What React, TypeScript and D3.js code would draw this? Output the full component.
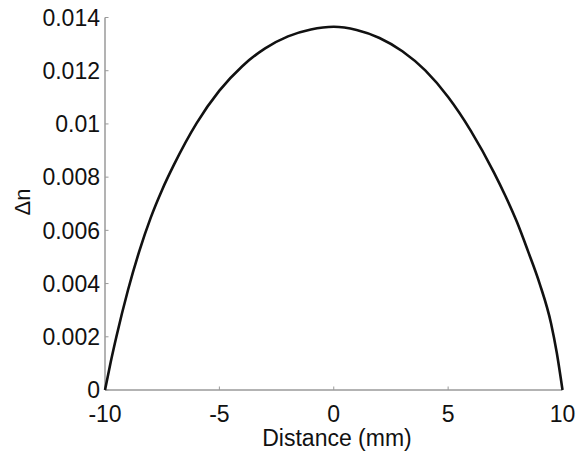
import React from "react";
import * as d3 from "d3";

const distances = [-10, -9.75, -9.5, -9, -8.5, -8, -7.5, -7, -6, -5, -4, -3, -2, -1, 0, 1, 2, 3, 4, 5, 6, 7, 7.5, 8, 8.5, 9, 9.5, 9.75, 10];
const deltaN = [0, 0.00105, 0.00201, 0.00374, 0.00522, 0.00648, 0.00753, 0.00844, 0.01002, 0.01125, 0.01217, 0.01284, 0.01329, 0.01355, 0.01365, 0.01353, 0.01323, 0.01273, 0.01201, 0.01101, 0.00973, 0.00818, 0.0073, 0.00633, 0.0052, 0.004, 0.0025, 0.0014, 0];
const xTicks = [-10, -5, 0, 5, 10];
const yTicks = [0, 0.002, 0.004, 0.006, 0.008, 0.01, 0.012, 0.014];
const yTickLabels = ["0", "0.002", "0.004", "0.006", "0.008", "0.01", "0.012", "0.014"];
const xLabel = "Distance (mm)";
const yLabel = "Δn";

const W = 579;
const H = 454;

export default function App() {
  const x = d3.scaleLinear().domain([-10, 10]).range([105, 562.5]);
  const y = d3.scaleLinear().domain([0, 0.014]).range([390, 17.5]);
  const pts = distances.map((d, i) => [d, deltaN[i]] as [number, number]);
  const line = d3
    .line<[number, number]>()
    .x((d) => x(d[0]))
    .y((d) => y(d[1]))
    .curve(d3.curveMonotoneX);
  const font = "'Liberation Sans', Arial, sans-serif";
  const axisColor = "#9a9a9a";
  const fs = 23;
  return (
    <svg
      width={W}
      height={H}
      style={{ position: "absolute", left: 0, top: 0, background: "#fff" }}
    >
      <rect x={0} y={0} width={W} height={H} fill="#fff" />
      <line x1={x(-10)} x2={x(-10)} y1={y(0)} y2={y(0.014)} stroke={axisColor} strokeWidth={1.5} />
      <line x1={x(-10)} x2={x(10)} y1={y(0)} y2={y(0)} stroke={axisColor} strokeWidth={1.5} />
      {yTicks.map((t, i) => (
        <g key={"y" + i}>
          <line x1={x(-10)} x2={x(-10) + 3.5} y1={y(t)} y2={y(t)} stroke={axisColor} strokeWidth={1} />
          <text
            x={x(-10) - 5}
            y={y(t)}
            dy="0.36em"
            textAnchor="end"
            fontFamily={font}
            fontSize={fs}
            fill="#111"
          >
            {yTickLabels[i]}
          </text>
        </g>
      ))}
      {xTicks.map((t, i) => (
        <g key={"x" + i}>
          <line x1={x(t)} x2={x(t)} y1={y(0)} y2={y(0) - 3.5} stroke={axisColor} strokeWidth={1} />
          <text
            x={x(t)}
            y={422}
            textAnchor="middle"
            fontFamily={font}
            fontSize={fs}
            fill="#111"
          >
            {String(t)}
          </text>
        </g>
      ))}
      <text x={337} y={446} textAnchor="middle" fontFamily={font} fontSize={fs} fill="#111">
        {xLabel}
      </text>
      <text
        transform={`translate(30,202) rotate(-90)`}
        textAnchor="middle"
        fontFamily={font}
        fontSize={22}
        fill="#111"
      >
        {yLabel}
      </text>
      <path d={line(pts) || ""} fill="none" stroke="#111" strokeWidth={2.6} />
    </svg>
  );
}
